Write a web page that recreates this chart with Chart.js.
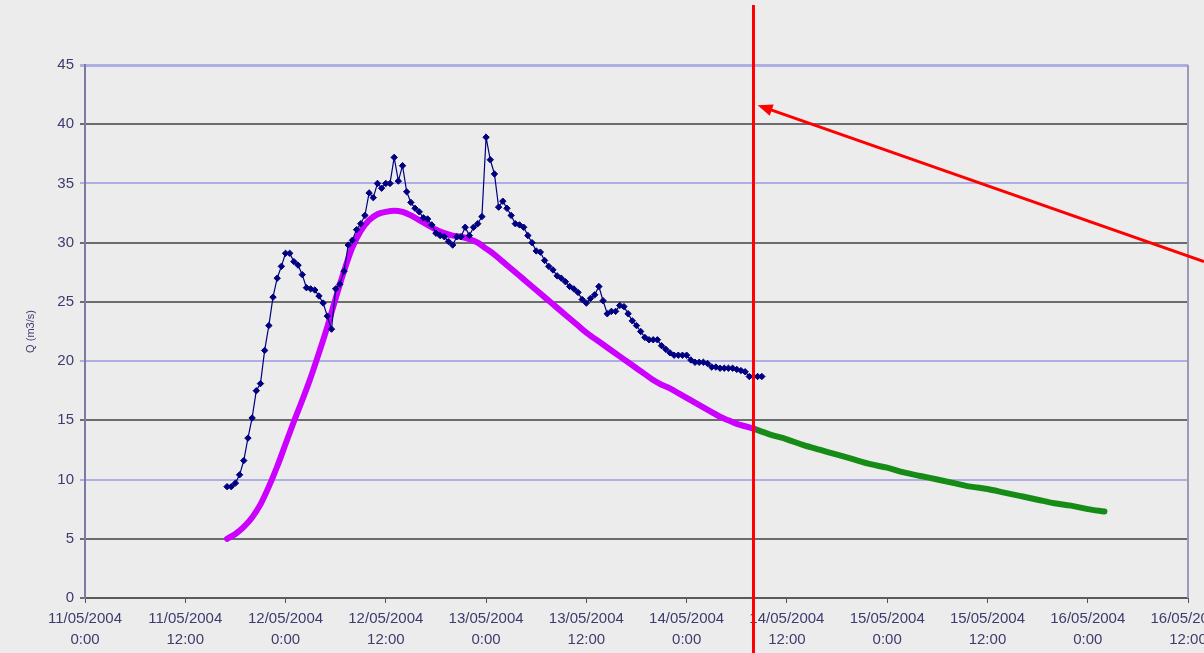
<!DOCTYPE html>
<html>
<head>
<meta charset="utf-8">
<title>Q (m3/s)</title>
<script src="https://cdn.jsdelivr.net/npm/chart.js@4.4.1/dist/chart.umd.min.js"></script>
<style>
  html, body { margin: 0; padding: 0; background: #ececec; }
  #wrap { width: 1204px; height: 653px; }
</style>
</head>
<body>
<div id="wrap"><canvas id="flowChart" width="1204" height="653"></canvas></div>
<script>
// Hours are counted from 11/05/2004 0:00
const tickDates = ['11/05/2004', '11/05/2004', '12/05/2004', '12/05/2004', '13/05/2004', '13/05/2004',
    '14/05/2004', '14/05/2004', '15/05/2004', '15/05/2004', '16/05/2004', '16/05/2004'];
const tickTimes = ['0:00', '12:00', '0:00', '12:00', '0:00', '12:00',
    '0:00', '12:00', '0:00', '12:00', '0:00', '12:00'];
const yTickValues = [0, 5, 10, 15, 20, 25, 30, 35, 40, 45];
const lightGridValues = [10, 20, 35, 45];

// observed discharge, every 30 min from 11/05 17:00
const observedStart = 17;
const observedStep = 0.5;
const observedQ = [
    9.4, 9.4, 9.7, 10.4, 11.6, 13.5, 15.2, 17.5, 18.1, 20.9,
    23.0, 25.4, 27.0, 28.0, 29.1, 29.1, 28.4, 28.1, 27.3, 26.2,
    26.1, 26.0, 25.5, 24.9, 23.8, 22.7, 26.1, 26.5, 27.6, 29.8,
    30.2, 31.1, 31.6, 32.3, 34.2, 33.8, 35.0, 34.6, 35.0, 35.0,
    37.2, 35.2, 36.5, 34.3, 33.4, 32.9, 32.6, 32.1, 32.0, 31.5,
    30.8, 30.6, 30.5, 30.1, 29.8, 30.5, 30.5, 31.3, 30.6, 31.3,
    31.6, 32.2, 38.9, 37.0, 35.8, 33.0, 33.5, 32.9, 32.3, 31.6,
    31.5, 31.3, 30.6, 30.0, 29.3, 29.2, 28.5, 28.0, 27.7, 27.2,
    27.0, 26.7, 26.3, 26.1, 25.8, 25.2, 24.9, 25.3, 25.6, 26.3,
    25.1, 24.0, 24.2, 24.2, 24.7, 24.6, 24.0, 23.4, 23.0, 22.5,
    22.0, 21.8, 21.8, 21.8, 21.3, 21.0, 20.7, 20.5, 20.5, 20.5,
    20.5, 20.1, 19.9, 19.9, 19.9, 19.8, 19.5, 19.5, 19.4, 19.4,
    19.4, 19.4, 19.3, 19.2, 19.1, 18.7, 18.7, 18.7, 18.7
];

// simulated discharge, hourly
const simulatedStart = 17;
const simulatedStep = 1;
const simulatedQ = [
    5.0, 5.4, 6.0, 6.8, 7.9, 9.4, 11.1, 13.0, 14.9, 16.7,
    18.6, 20.7, 22.9, 25.3, 27.6, 29.6, 31.0, 31.9, 32.4, 32.6,
    32.7, 32.6, 32.3, 31.9, 31.5, 31.1, 30.8, 30.6, 30.5, 30.3,
    30.0, 29.5, 29.0, 28.4, 27.8, 27.2, 26.6, 26.0, 25.4, 24.8,
    24.2, 23.6, 23.0, 22.4, 21.9, 21.4, 20.9, 20.4, 19.9, 19.4,
    18.9, 18.4, 18.0, 17.7, 17.3, 16.9, 16.5, 16.1, 15.7, 15.3,
    15.0, 14.7, 14.5, 14.3
];

// forecast discharge, every 2 h from the cut-off
const forecastStart = 80;
const forecastStep = 2;
const forecastQ = [
    14.3, 13.8, 13.4, 12.9, 12.5, 12.1, 11.7, 11.3, 11.0, 10.6,
    10.3, 10.0, 9.7, 9.4, 9.2, 8.9, 8.6, 8.3, 8.0, 7.8,
    7.5, 7.3
];

const cutoffHour = 80;
const arrowTip = { hour: 80.5, q: 41.6 };
const arrowTailQ = 28.4;

const labelColor = '#3c3c6e';
const fontFamily = '"Liberation Sans", Arial, sans-serif';

function toPoints(start, step, values) {
    return values.map((q, i) => ({ x: start + i * step, y: q }));
}

const backgroundAndMarks = {
    id: 'backgroundAndMarks',
    beforeDraw(chart) {
        const ctx = chart.ctx;
        ctx.save();
        ctx.fillStyle = '#ececec';
        ctx.fillRect(0, 0, chart.width, chart.height);
        ctx.restore();
    },
    afterDraw(chart) {
        const { ctx, chartArea, scales } = chart;
        const xs = scales.x, ys = scales.y;
        ctx.save();

        // right frame of the plot
        ctx.strokeStyle = '#9a9ab8';
        ctx.lineWidth = 2;
        ctx.beginPath();
        ctx.moveTo(chartArea.right, chartArea.top);
        ctx.lineTo(chartArea.right, chartArea.bottom);
        ctx.stroke();

        // red cut-off line
        const cx = xs.getPixelForValue(cutoffHour);
        ctx.strokeStyle = '#ff0000';
        ctx.lineWidth = 3;
        ctx.beginPath();
        ctx.moveTo(cx, 5);
        ctx.lineTo(cx, chart.height);
        ctx.stroke();

        // arrow coming in from the right edge
        const tx = xs.getPixelForValue(arrowTip.hour);
        const ty = ys.getPixelForValue(arrowTip.q);
        const sx = chart.width;
        const sy = ys.getPixelForValue(arrowTailQ);
        const ang = Math.atan2(ty - sy, tx - sx);
        const head = 16;
        ctx.lineWidth = 3;
        ctx.beginPath();
        ctx.moveTo(sx, sy);
        ctx.lineTo(tx - Math.cos(ang) * head * 0.6, ty - Math.sin(ang) * head * 0.6);
        ctx.stroke();
        ctx.fillStyle = '#ff0000';
        ctx.beginPath();
        ctx.moveTo(tx, ty);
        ctx.lineTo(tx - head * Math.cos(ang - 0.38), ty - head * Math.sin(ang - 0.38));
        ctx.lineTo(tx - head * Math.cos(ang + 0.38), ty - head * Math.sin(ang + 0.38));
        ctx.closePath();
        ctx.fill();

        ctx.restore();
    }
};

const chart = new Chart(document.getElementById('flowChart'), {
    type: 'line',
    data: {
        datasets: [
            {
                label: 'Observed',
                data: toPoints(observedStart, observedStep, observedQ),
                borderColor: '#000080',
                backgroundColor: '#000080',
                borderWidth: 1.2,
                pointStyle: 'rectRot',
                pointRadius: 3.2,
                pointBorderWidth: 1,
                order: 0
            },
            {
                label: 'Simulated',
                data: toPoints(simulatedStart, simulatedStep, simulatedQ),
                borderColor: '#cc00ff',
                borderWidth: 6,
                borderCapStyle: 'round',
                pointRadius: 0,
                cubicInterpolationMode: 'monotone',
                order: 1
            },
            {
                label: 'Forecast',
                data: toPoints(forecastStart, forecastStep, forecastQ),
                borderColor: '#168c16',
                borderWidth: 6,
                borderCapStyle: 'round',
                pointRadius: 0,
                cubicInterpolationMode: 'monotone',
                order: 2
            }
        ]
    },
    options: {
        responsive: false,
        animation: false,
        layout: { padding: { left: 24, top: 65, right: 16, bottom: 0 } },
        plugins: {
            legend: { display: false },
            tooltip: { enabled: false }
        },
        scales: {
            x: {
                type: 'linear',
                min: 0,
                max: 132,
                ticks: {
                    stepSize: 12,
                    autoSkip: false,
                    maxRotation: 0,
                    minRotation: 0,
                    padding: 6,
                    color: labelColor,
                    font: { family: fontFamily, size: 15, lineHeight: 1.35 },
                    callback: (value) => {
                        const i = Math.round(value / 12);
                        return [tickDates[i], tickTimes[i]];
                    }
                },
                grid: { drawOnChartArea: false, drawTicks: true, tickLength: 5, color: '#505050' },
                border: { color: '#5a5a5a', width: 2 },
                afterFit: (scale) => {
                    scale.height = 55;
                    scale.paddingLeft = 0;
                    scale.paddingRight = 0;
                }
            },
            y: {
                min: 0,
                max: 45,
                afterBuildTicks: (scale) => {
                    scale.ticks = yTickValues.map(v => ({ value: v }));
                },
                ticks: {
                    color: labelColor,
                    padding: 6,
                    font: { family: fontFamily, size: 15 }
                },
                grid: {
                    color: (ctx) => lightGridValues.includes(ctx.tick.value) ? '#aeaee2' : '#6c6c6c',
                    lineWidth: (ctx) => ctx.tick.value === 45 ? 3 : 2,
                    tickLength: 5
                },
                border: { color: '#7a7aa2', width: 2 },
                title: {
                    display: true,
                    text: 'Q (m3/s)',
                    color: labelColor,
                    padding: 0,
                    font: { family: fontFamily, size: 11 }
                },
                afterFit: (scale) => { scale.width = 61; }
            }
        }
    },
    plugins: [backgroundAndMarks]
});
</script>
</body>
</html>
